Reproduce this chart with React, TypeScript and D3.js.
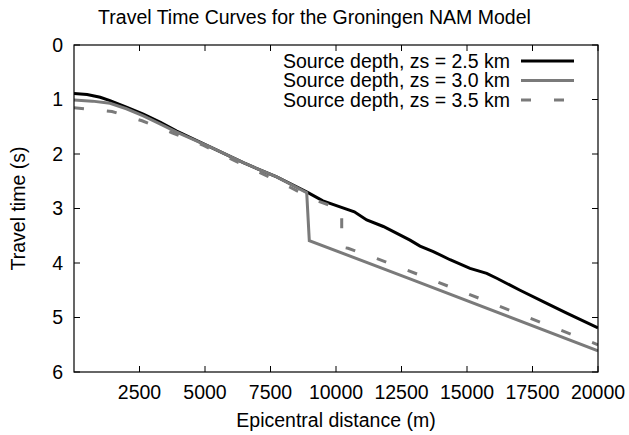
import React from "react";
import * as d3 from "d3";

const title = "Travel Time Curves for the Groningen NAM Model";
const xLabel = "Epicentral distance (m)";
const yLabel = "Travel time (s)";
const xTicks = [2500, 5000, 7500, 10000, 12500, 15000, 17500, 20000];
const yTicks = [0, 1, 2, 3, 4, 5, 6];

const seriesNames = [
  "Source depth, zs = 2.5 km",
  "Source depth, zs = 3.0 km",
  "Source depth, zs = 3.5 km",
];

const dist25 = [0, 500, 1000, 1374, 2000, 2645, 3300, 3920, 5191, 6462, 7737, 8932, 9500, 10153, 10700, 11172, 11806, 12825, 13207, 13714, 14352, 15115, 15753, 16135, 17024, 18043, 18806, 20000];
const time25 = [0.89, 0.91, 0.96, 1.02, 1.14, 1.27, 1.42, 1.58, 1.87, 2.16, 2.42, 2.71, 2.86, 2.97, 3.06, 3.21, 3.33, 3.58, 3.69, 3.79, 3.94, 4.10, 4.19, 4.28, 4.50, 4.74, 4.92, 5.19];

const dist30 = [0, 700, 1374, 2000, 2645, 3300, 3920, 5191, 6462, 7737, 8882, 8981, 12825, 20000];
const time30 = [1.01, 1.03, 1.07, 1.17, 1.30, 1.45, 1.60, 1.87, 2.16, 2.42, 2.71, 3.59, 4.29, 5.61];

const dist35 = [0, 1450, 2596, 3741, 4886, 5993, 7138, 8245, 9237, 10218, 10218, 10459, 11566, 12711, 20000];
const time35 = [1.15, 1.22, 1.39, 1.61, 1.83, 2.09, 2.35, 2.61, 2.85, 3.02, 3.71, 3.73, 3.92, 4.13, 5.50];

const W = 629;
const H = 435;
const L = 74;
const R = 598;
const T = 45;
const B = 372;
const FONT = "'Liberation Sans', Arial, Helvetica, sans-serif";
const GRAY = "#7a7a7a";
const FS = 19.5;

export default function App() {
  const x = d3.scaleLinear().domain([0, 20000]).range([L, R]);
  const y = d3.scaleLinear().domain([0, 6]).range([T, B]);
  const line = d3
    .line<[number, number]>()
    .x((d) => x(d[0]))
    .y((d) => y(d[1]));
  const zip = (a: number[], b: number[]) => a.map((v, i) => [v, b[i]] as [number, number]);

  const series = [
    { name: seriesNames[0], pts: zip(dist25, time25), color: "#000", dash: undefined as string | undefined },
    { name: seriesNames[1], pts: zip(dist30, time30), color: GRAY, dash: undefined as string | undefined },
    { name: seriesNames[2], pts: zip(dist35, time35), color: GRAY, dash: "10,23" },
  ];

  const tickLen = 6;
  const legX = 510;
  const legY = [61, 80.5, 100];

  return (
    <svg width={W} height={H} style={{ position: "absolute", left: 0, top: 0, background: "#fff" }} fontFamily={FONT}>
      <rect x={0} y={0} width={W} height={H} fill="#fff" />
      <defs>
        <clipPath id="plotclip">
          <rect x={L} y={T} width={R - L} height={B - T} />
        </clipPath>
      </defs>
      <text x={W / 2} y={24} fontSize={FS} textAnchor="middle" fill="#000">
        {title}
      </text>
      {xTicks.map((t) => (
        <g key={"xt" + t}>
          <line x1={x(t)} x2={x(t)} y1={B} y2={B - tickLen} stroke="#000" strokeWidth={1} />
          <line x1={x(t)} x2={x(t)} y1={T} y2={T + tickLen} stroke="#000" strokeWidth={1} />
          <text x={x(t)} y={399} fontSize={FS} textAnchor="middle" fill="#000">
            {t}
          </text>
        </g>
      ))}
      {yTicks.map((t) => (
        <g key={"yt" + t}>
          <line x1={L} x2={L + tickLen} y1={y(t)} y2={y(t)} stroke="#000" strokeWidth={1} />
          <line x1={R} x2={R - tickLen} y1={y(t)} y2={y(t)} stroke="#000" strokeWidth={1} />
          <text x={63} y={y(t)} dy="0.35em" fontSize={FS} textAnchor="end" fill="#000">
            {t}
          </text>
        </g>
      ))}
      <text x={(L + R) / 2} y={427} fontSize={FS} textAnchor="middle" fill="#000">
        {xLabel}
      </text>
      <text transform={`translate(25,${(T + B) / 2}) rotate(-90)`} fontSize={FS} textAnchor="middle" fill="#000">
        {yLabel}
      </text>
      <g clipPath="url(#plotclip)">
        {series.map((s, i) => (
          <path
            key={"s" + i}
            d={line(s.pts) || ""}
            fill="none"
            stroke={s.color}
            strokeWidth={3}
            strokeDasharray={s.dash}
            strokeLinejoin="miter"
          />
        ))}
      </g>
      {series.map((s, i) => (
        <g key={"lg" + i}>
          <text x={legX} y={legY[i]} dy="0.35em" fontSize={FS} textAnchor="end" fill="#000">
            {s.name}
          </text>
          <line x1={521} x2={574} y1={legY[i]} y2={legY[i]} stroke={s.color} strokeWidth={3} strokeDasharray={s.dash} />
        </g>
      ))}
      <rect x={L} y={T} width={R - L} height={B - T} fill="none" stroke="#000" strokeWidth={1.2} />
    </svg>
  );
}
